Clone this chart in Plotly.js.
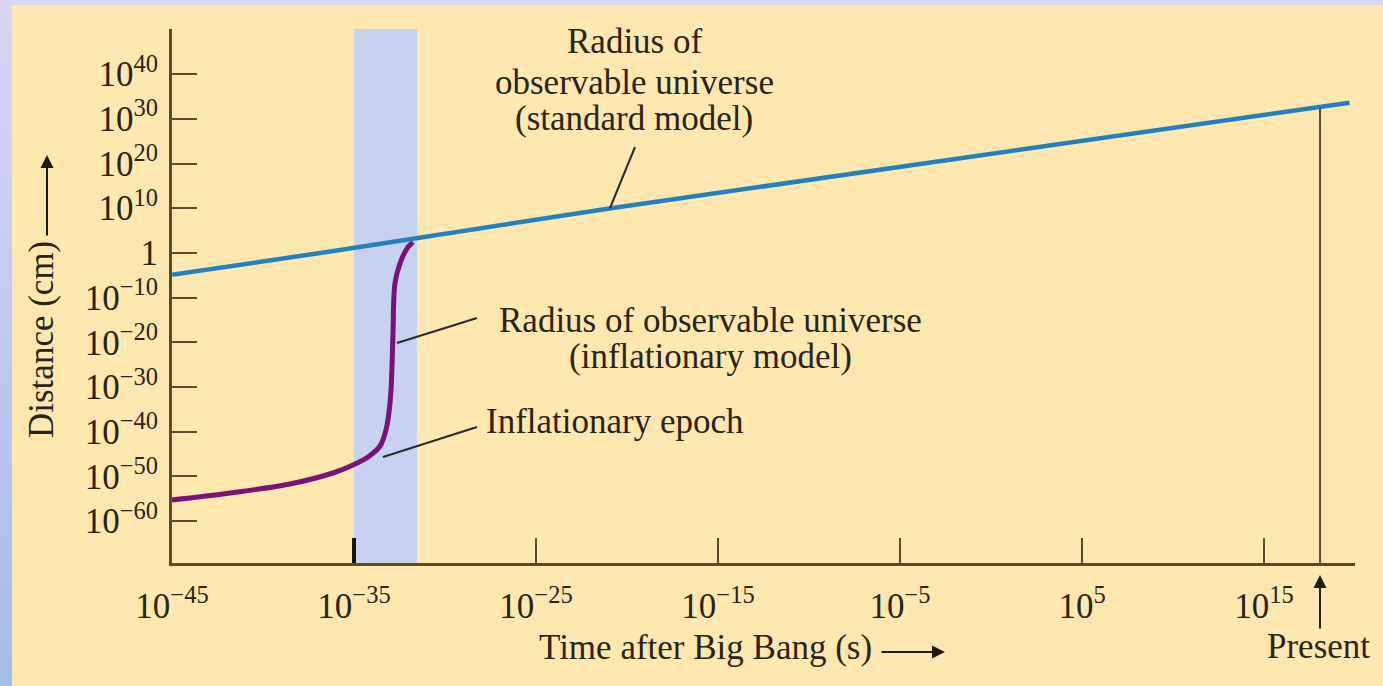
<!DOCTYPE html>
<html><head><meta charset="utf-8">
<script src="https://cdn.plot.ly/plotly-3.0.1.min.js"></script>
<style>
html,body{margin:0;padding:0;width:1383px;height:686px;overflow:hidden;
background:linear-gradient(to bottom,#d9d5f3 0%,#c6cbef 40%,#a5bce7 100%);}
#chart{position:absolute;left:12px;top:5px;width:1371px;height:681px;}
</style></head><body><div id="chart"></div>
<script>
// ---- data ----
const stdTime = [1e-45, 5e-37, 1.3e-21, 1.2e18, 5e19];
const stdDist = [1.3e-5, 2, 1e10, 3e32, 4e33];

const inflTime = [1e-45, 1.55e-42, 3e-39, 7e-37, 8.8e-36, 5.9e-35, 2.7e-34, 5.7e-34, 8.4e-34, 1.08e-33, 1.22e-33, 1.39e-33, 1.79e-33, 3.4e-33, 9.3e-33, 1.75e-32];
const inflDist = [5e-56, 1.8e-54, 1.9e-52, 5.5e-50, 3.4e-48, 2.1e-46, 6e-44, 2.3e-40, 2.4e-36, 2e-31, 2.8e-26, 1.1e-18, 1.7e-7, 5.2e-3, 20, 260];

const xTickVals = [1e-45, 1e-35, 1e-25, 1e-15, 1e-5, 1e5, 1e15];
const xTickText = ['10<sup>−45</sup>', '10<sup>−35</sup>', '10<sup>−25</sup>', '10<sup>−15</sup>', '10<sup>−5</sup>', '10<sup>5</sup>', '10<sup>15</sup>'];
const yTickVals = [1e-60, 1e-50, 1e-40, 1e-30, 1e-20, 1e-10, 1, 1e10, 1e20, 1e30, 1e40];
const yTickText = ['10<sup>−60</sup>', '10<sup>−50</sup>', '10<sup>−40</sup>', '10<sup>−30</sup>', '10<sup>−20</sup>', '10<sup>−10</sup>', '1', '10<sup>10</sup>', '10<sup>20</sup>', '10<sup>30</sup>', '10<sup>40</sup>'];

const epochStart = 1e-35, epochEnd = 2.9e-32;
const presentTime = 1.2e18, presentDist = 3e32;
const floorDist = 1e-72;

// ---- layout helpers (page pixels -> paper) ----
const PL = 172, PR = 1355, PT = 29, PB = 563;
const px = X => (X - PL) / (PR - PL);
const py = Y => (PB - Y) / (PB - PT);

const FONT = 'Liberation Serif, Times New Roman, serif';
const TXT = '#2b2315';
const AX = '#5e4a27';
const FS = 35;

function label(text, X, Y, anchor) {
  return {text: text, xref: 'paper', yref: 'paper', x: px(X), y: py(Y),
    xanchor: anchor || 'center', yanchor: 'middle', showarrow: false,
    font: {family: FONT, size: FS, color: TXT}};
}
function arrow(Xh, Yh, dx, dy) {
  return {text: '', xref: 'paper', yref: 'paper', x: px(Xh), y: py(Yh), ax: dx, ay: dy,
    showarrow: true, arrowhead: 2, arrowsize: 1.3, arrowwidth: 2, arrowcolor: '#1e1a12'};
}
function leader(X0, Y0, X1, Y1) {
  return {type: 'line', xref: 'paper', yref: 'paper', x0: px(X0), y0: py(Y0), x1: px(X1), y1: py(Y1),
    line: {color: '#2a2a2a', width: 2}};
}

const traces = [
  {x: inflTime, y: inflDist, mode: 'lines', line: {color: '#7b1275', width: 5, shape: 'spline', smoothing: 1}, hoverinfo: 'skip'},
  {x: stdTime, y: stdDist, mode: 'lines', line: {color: '#2382be', width: 4.5}, hoverinfo: 'skip'},
  {x: [presentTime, presentTime], y: [floorDist, presentDist], mode: 'lines', line: {color: AX, width: 2}, hoverinfo: 'skip'}
];

const layout = {
  width: 1371, height: 681,
  margin: {l: 160, r: 28, t: 24, b: 123},
  paper_bgcolor: '#fee8b0', plot_bgcolor: '#fee8b0',
  showlegend: false,
  font: {family: FONT, size: FS, color: TXT},
  xaxis: {type: 'log', range: [-45, 20], showgrid: false, zeroline: false, showline: true,
    linecolor: AX, linewidth: 3, ticks: 'inside', ticklen: 25, tickwidth: 2, tickcolor: AX,
    tickmode: 'array', tickvals: xTickVals, ticktext: xTickText, ticklabelstandoff: 10,
    tickfont: {family: FONT, size: FS, color: TXT}, automargin: false},
  yaxis: {type: 'log', range: [-69.4, 50.1], showgrid: false, zeroline: false, showline: true,
    linecolor: AX, linewidth: 3, ticks: 'inside', ticklen: 25, tickwidth: 2, tickcolor: AX,
    tickmode: 'array', tickvals: yTickVals, ticktext: yTickText, ticklabelstandoff: 4,
    tickfont: {family: FONT, size: FS, color: TXT}, automargin: false},
  shapes: [
    {type: 'rect', xref: 'x', yref: 'paper', x0: epochStart, x1: epochEnd, y0: 0, y1: 1,
      fillcolor: '#c6d2ef', line: {width: 0}, layer: 'below'},
    {type: 'line', xref: 'x', yref: 'paper', x0: epochStart, x1: epochStart, y0: 0, y1: 25 / (PB - PT),
      line: {color: '#161410', width: 4}},
    leader(635, 147, 610, 208),
    leader(477, 318, 397, 343),
    leader(477, 427, 383, 457)
  ],
  annotations: [
    label('Radius of', 634, 42),
    label('observable universe', 634, 82),
    label('(standard model)', 634, 119),
    label('Radius of observable universe', 710, 320),
    label('(inflationary model)', 710, 357),
    label('Inflationary epoch', 484, 421, 'left'),
    label('Time after Big Bang (s)', 705, 647),
    label('Present', 1318, 646),
    Object.assign(label('Distance (cm)', 41, 340), {textangle: -90}),
    arrow(945, 652, -65, 0),
    arrow(47, 155, 0, 82),
    arrow(1320, 575, 0, 55)
  ]
};

Plotly.newPlot('chart', traces, layout, {displayModeBar: false, staticPlot: true});
</script></body></html>
